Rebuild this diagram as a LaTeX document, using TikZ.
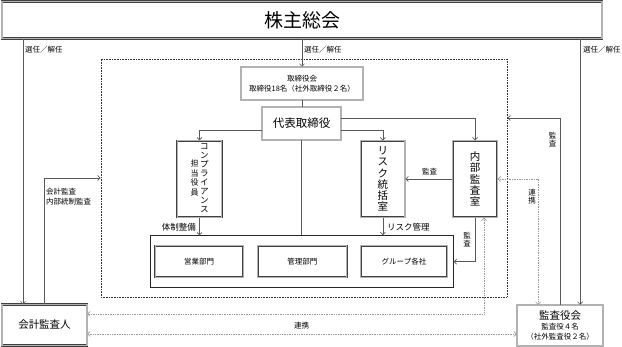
\documentclass[tikz,border=0pt]{standalone}
\usepackage{fontspec}
\setmainfont{Noto Sans CJK JP}
\usetikzlibrary{arrows.meta}
\begin{document}
\begin{tikzpicture}[x=1pt, y=-1pt, >={Straight Barb[length=2.5pt,width=5pt]},
  wire/.style={draw=black!65, line width=0.7pt},
  link/.style={draw=black!40, line width=0.7pt, densely dotted},
  rbox/.style={draw=black!75, double=black!30, double distance=1.2pt, line width=0.5pt, fill=white, inner sep=0pt, align=center},
  lbl/.style={font=\fontsize{7.5}{8}\selectfont, inner sep=0pt, align=center}]
\useasboundingbox (0,0) rectangle (622,347);
\node[draw=black!80, densely dotted, line width=0.6pt, minimum width=406pt, minimum height=238pt, inner sep=0pt] (frame) at (304,178) {};
\node[rbox, minimum width=600pt, minimum height=37pt, font=\fontsize{19}{22}\selectfont] (agm) at (302,20) {株主総会};
\node[rbox, minimum width=122pt, minimum height=33pt, font=\fontsize{7.5}{9.5}\selectfont] (board) at (302,83.5) {取締役会\\取締役18名（社外取締役２名）};
\node[rbox, minimum width=79pt, minimum height=33pt, font=\fontsize{11.5}{13}\selectfont] (ceo) at (301.5,123.5) {代表取締役};
\node[rbox, minimum width=44.4pt, minimum height=76.6pt] (comp) at (199.5,179) {\begin{tabular}{@{}c@{\hspace{1.5pt}}c@{}}
  \fontsize{8}{9.3}\selectfont\begin{tabular}{@{}c@{}}担\\当\\役\\員\end{tabular} &
  \fontsize{8.5}{8.7}\selectfont\begin{tabular}{@{}c@{}}コ\\ン\\プ\\ラ\\イ\\ア\\ン\\ス\end{tabular}\end{tabular}};
\node[rbox, minimum width=44.3pt, minimum height=76.6pt, font=\fontsize{10.5}{11.2}\selectfont] (risk) at (382.9,179) {リ\\ス\\ク\\統\\括\\室};
\node[rbox, minimum width=44.6pt, minimum height=76.6pt, font=\fontsize{10.5}{11.2}\selectfont] (audit) at (475,179) {内\\部\\監\\査\\室};
% departments
\node[draw=black!85, line width=0.8pt, minimum width=303pt, minimum height=52pt, inner sep=0pt] (dept) at (301.7,261.7) {};
\node[rbox, minimum width=88pt, minimum height=31.6pt, font=\fontsize{7.5}{9}\selectfont] (sales) at (199.2,261.5) {営業部門};
\node[rbox, minimum width=89pt, minimum height=31.6pt, font=\fontsize{7.5}{9}\selectfont] (admin) at (302.3,261.5) {管理部門};
\node[rbox, minimum width=86.6pt, minimum height=31.6pt, font=\fontsize{7.5}{9}\selectfont] (group) at (404,261.5) {グループ各社};
\node[rbox, minimum width=85pt, minimum height=41pt, font=\fontsize{10.5}{12}\selectfont] (cpa) at (44.5,325) {会計監査人};
\node[rbox, minimum width=86pt, minimum height=41pt, font=\fontsize{7.5}{10}\selectfont] (kansa) at (560,325.5) {{\fontsize{10.5}{10.3}\selectfont 監査役会}\\監査役４名\\（社外監査役２名）};
% labels
\node[lbl, anchor=west] (ln1) at (25,50) {選任／解任};
\node[lbl, anchor=west] (ln2) at (304,50) {選任／解任};
\node[lbl, anchor=west] (ln3) at (583,50) {選任／解任};
\node[lbl, anchor=north west, align=left, font=\fontsize{7.5}{10}\selectfont] (lcpa) at (46,188) {会計監査\\内部統制監査};
\node[lbl, anchor=east, font=\fontsize{8.5}{10}\selectfont] (lsys) at (196,227) {体制整備};
\node[lbl, anchor=west, font=\fontsize{8.5}{10}\selectfont] (lrisk) at (387,227) {リスク管理};
\node[lbl] (laud1) at (429.5,172) {監査};
\node[lbl] (laud2) at (467,240) {監\\査};
\node[lbl] (laud3) at (552.5,140) {監\\査};
\node[lbl] (lco1) at (532,197) {連\\携};
\node[lbl] (lco2) at (301.5,326) {連携};
% connectors
\draw[wire,->] (agm.south -| 23,0) -- (cpa.north -| 23,0);
\draw[wire,->] (agm.south) -- (board.north);
\draw[wire,->] (agm.south -| 580,0) -- (kansa.north -| 580,0);
\draw[wire] (board.south) -- (board.south |- ceo.north);
\draw[wire] (ceo.south) -- (ceo.south |- dept.north);
\draw[wire,->] (ceo.west |- 0,130) -| (comp.north);
\draw[wire,->] (ceo.east |- 0,130) -| (risk.north);
\draw[wire,->] (ceo.east |- 0,118) -| (audit.north);
\draw[wire,->] (comp.south) -- (comp.south |- dept.north);
\draw[wire,->] (risk.south) -- (risk.south |- dept.north);
\draw[wire,->] (audit.west) -- (risk.east);
\draw[wire,->] (audit.south) |- (dept.east);
\draw[wire,->] (cpa.north) |- (frame.west);
\draw[wire,->] (kansa.north) |- (frame.east |- 0,118);
\draw[link,<->] (audit.east) -| (kansa.north -| 538,0);
\draw[link,<->] ([xshift=9pt]audit.south) |- (cpa.east |- 0,314);
\draw[link,<->] (cpa.east |- 0,334) -- (kansa.west |- 0,334);
\end{tikzpicture}
\end{document}
